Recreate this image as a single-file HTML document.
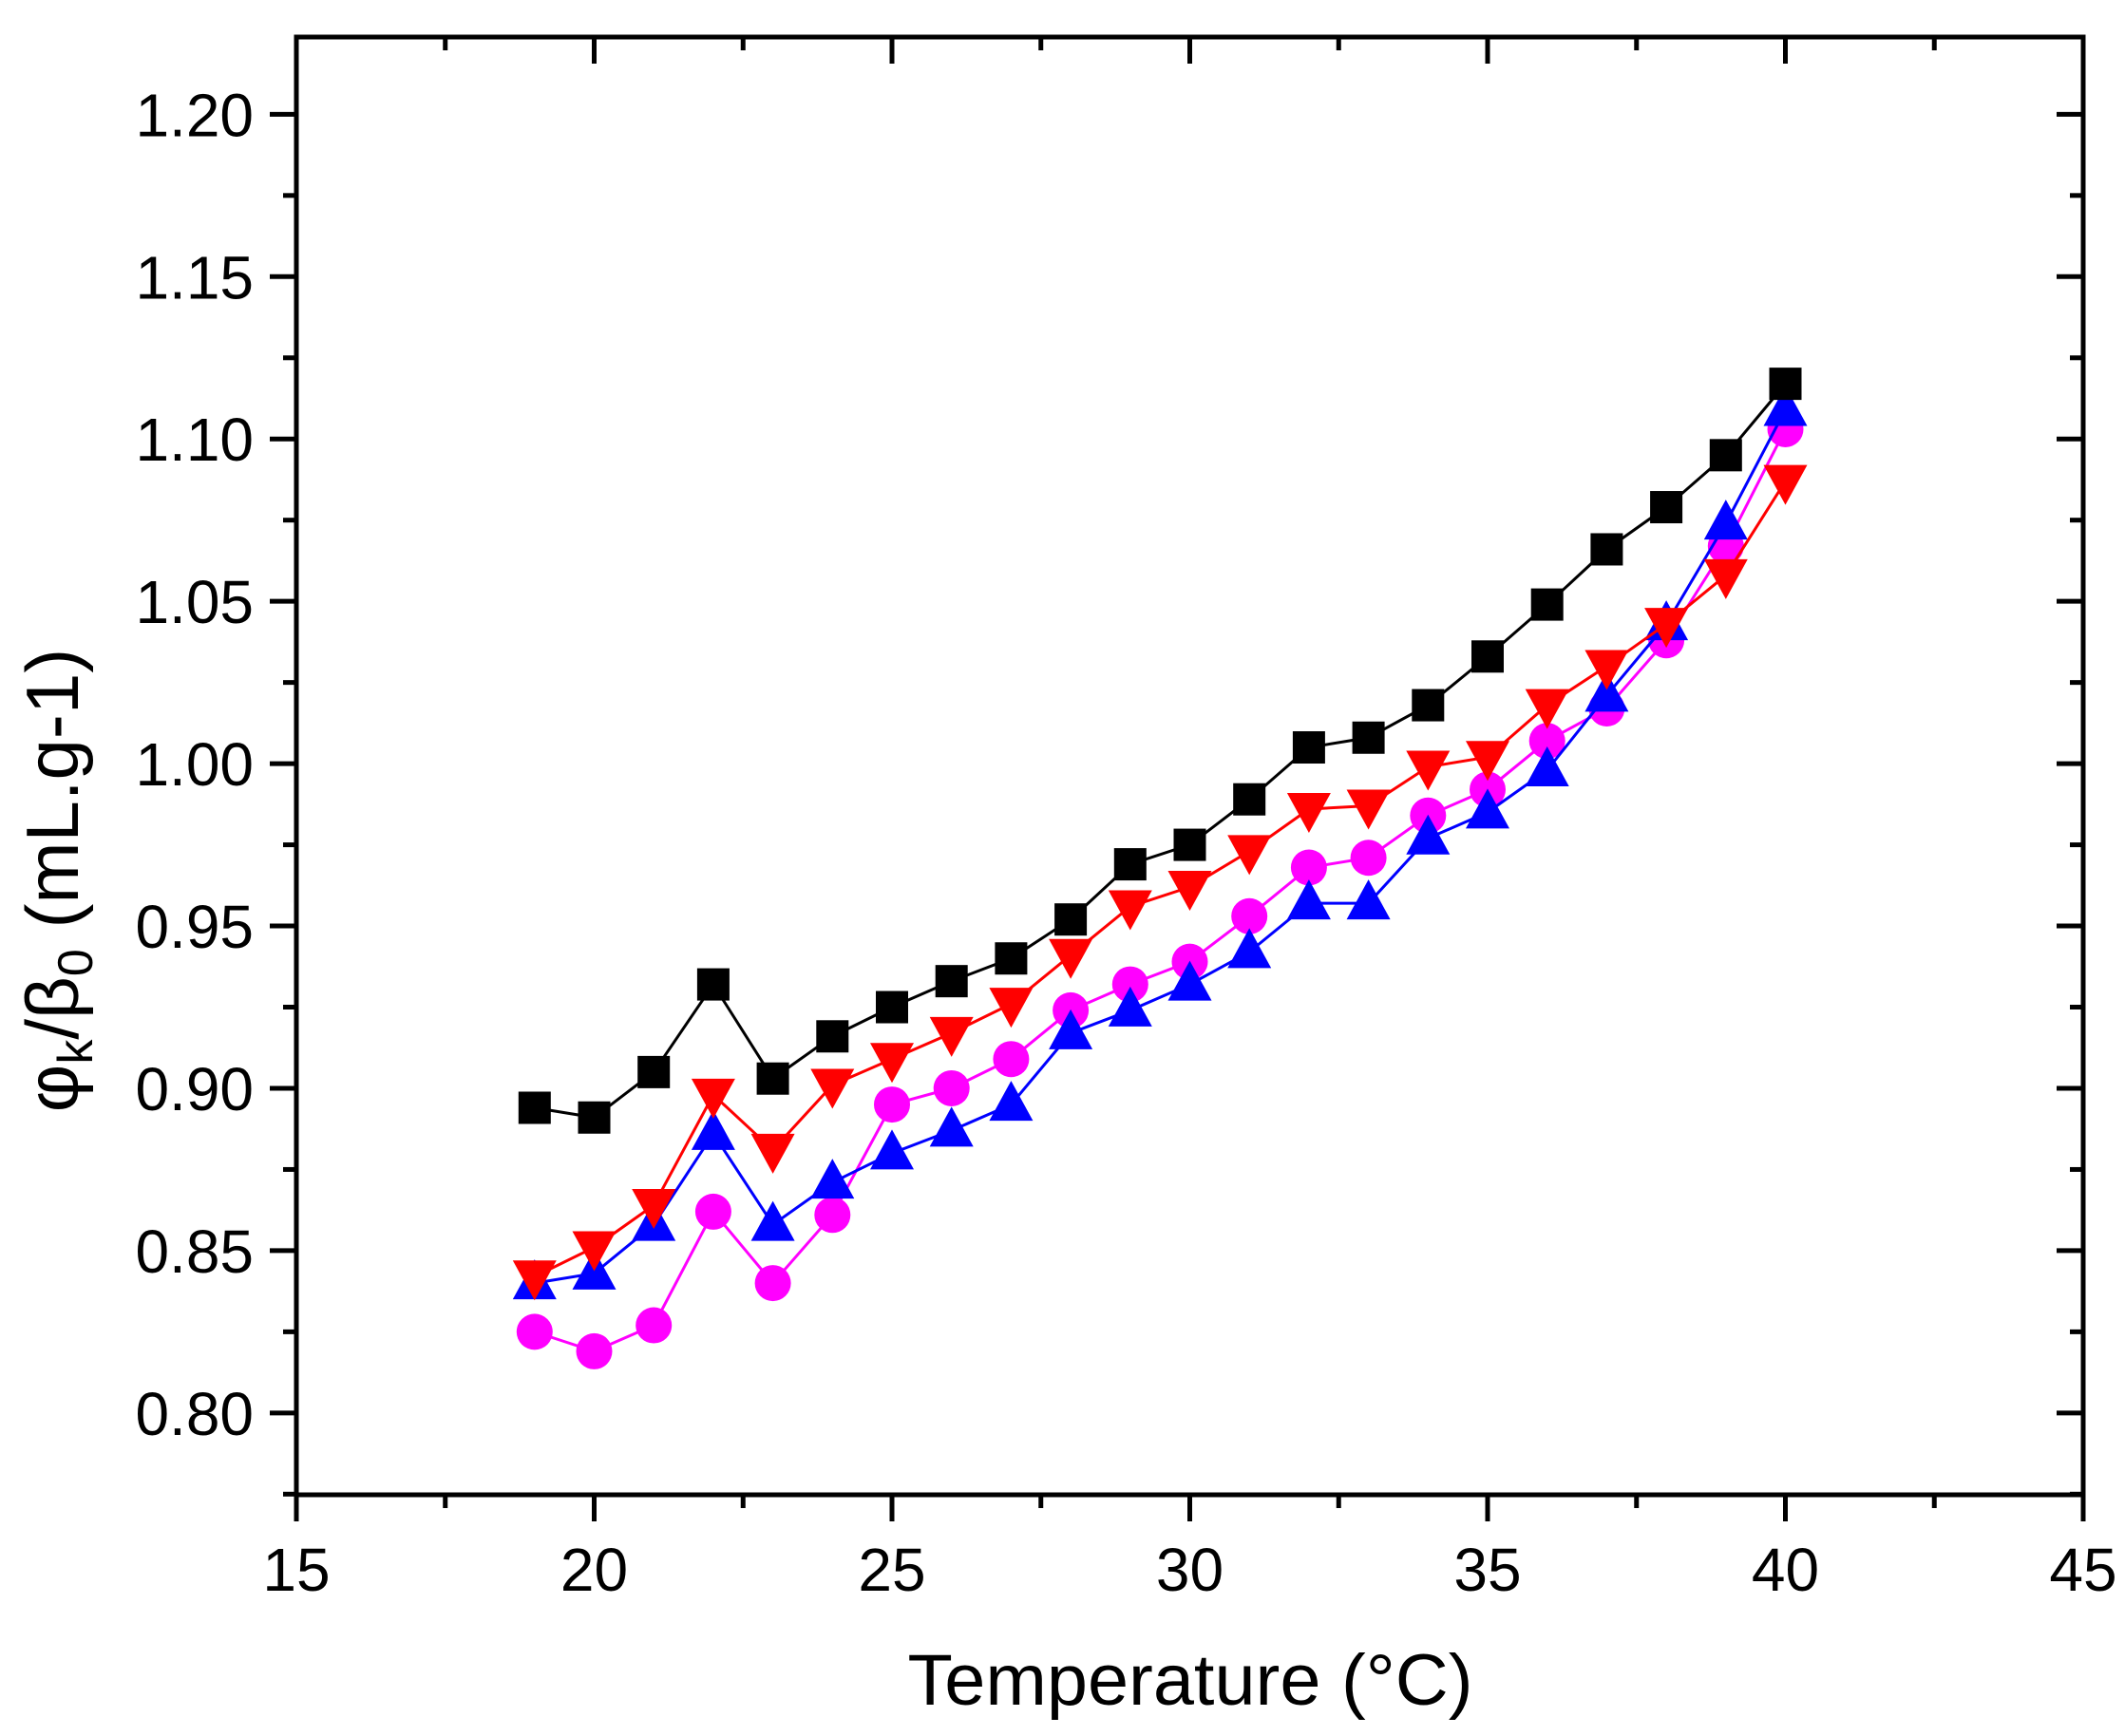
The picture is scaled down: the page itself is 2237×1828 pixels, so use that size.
<!DOCTYPE html>
<html><head><meta charset="utf-8"><style>
html,body{margin:0;padding:0;background:#fff;}
svg{display:block;font-family:"Liberation Sans",Arial,sans-serif;}
</style></head><body>
<svg id="chart" width="2237" height="1828" viewBox="0 0 2237 1828" xmlns="http://www.w3.org/2000/svg">
<rect width="2237" height="1828" fill="#fff"/>
<g id="axes"></g>
<g id="series"></g>
<text x="1253" y="1795" font-size="76" text-anchor="middle" textLength="595" lengthAdjust="spacingAndGlyphs">Temperature (°C)</text>
<text transform="translate(82,927) rotate(-90)" font-size="78" text-anchor="middle">φ<tspan font-size="52" dy="15">k</tspan><tspan dy="-15">/β</tspan><tspan font-size="52" dy="15">0</tspan><tspan dy="-15"> (mL.g-1)</tspan></text>
</svg>
<script>
const temps = [19,20,21,22,23,24,25,26,27,28,29,30,31,32,33,34,35,36,37,38,39,40];
const blackVals = [0.894,0.891,0.905,0.932,0.903,0.916,0.925,0.933,0.940,0.952,0.969,0.975,0.989,1.005,1.008,1.018,1.033,1.049,1.066,1.079,1.095,1.117];
const redVals = [0.842,0.851,0.864,0.898,0.881,0.901,0.909,0.917,0.926,0.941,0.956,0.962,0.973,0.986,0.987,0.999,1.002,1.018,1.030,1.043,1.058,1.087];
const blueVals = [0.840,0.843,0.858,0.886,0.858,0.871,0.880,0.887,0.895,0.917,0.924,0.932,0.942,0.957,0.957,0.977,0.985,0.998,1.021,1.043,1.074,1.109];
const magentaVals = [0.825,0.819,0.827,0.862,0.840,0.861,0.895,0.900,0.909,0.924,0.932,0.939,0.953,0.968,0.971,0.984,0.992,1.007,1.017,1.038,1.067,1.103];
const xTicks = [15,20,25,30,35,40,45];
const yTicks = ["0.80","0.85","0.90","0.95","1.00","1.05","1.10","1.15","1.20"];

const L=312,R=2193,T=39,B=1574;
const xMin=15,xMax=45,yMin=0.7748,yMax=1.2238;
function xs(v){return L+(v-xMin)/(xMax-xMin)*(R-L);}
function ys(v){return B-(v-yMin)/(yMax-yMin)*(B-T);}
const NS="http://www.w3.org/2000/svg";
function mk(tag,attrs,parent){const e=document.createElementNS(NS,tag);for(const k in attrs)e.setAttribute(k,attrs[k]);parent.appendChild(e);return e;}
const axes=document.getElementById('axes');
const frame=mk('rect',{x:L,y:T,width:R-L,height:B-T,fill:'none',stroke:'#000','stroke-width':5},axes);


for(let v=15;v<=45;v+=2.5){
  const major=(v%5===0);const x=xs(v);const len=major?28:14;
  const b=mk('line',{x1:x,x2:x,y1:B,y2:B+len,stroke:'#000','stroke-width':5},axes);
  
  
  const t=mk('line',{x1:x,x2:x,y1:T,y2:T+len,stroke:'#000','stroke-width':5},axes);
  
  
}
xTicks.forEach(v=>{
  const t=mk('text',{x:xs(v),y:1675,'font-size':64,'text-anchor':'middle'},axes);
  t.textContent=v;
  
  
});
for(let i=0;i<=17;i++){
  const v=0.775+i*0.025;if(v>1.224)break;
  const major=(i%2===1);const y=ys(v);const len=major?28:14;
  const l=mk('line',{x1:L-len,x2:L,y1:y,y2:y,stroke:'#000','stroke-width':5},axes);
  
  
  const r=mk('line',{x1:R-len,x2:R,y1:y,y2:y,stroke:'#000','stroke-width':5},axes);
  
  
}
yTicks.forEach(s=>{
  const t=mk('text',{x:267,y:ys(parseFloat(s))+23,'font-size':64,'text-anchor':'end'},axes);
  t.textContent=s;
  
  
});
const series=document.getElementById('series');
function drawSeries(vals,color,shape,name){
  const g=mk('g',{},series);
  
  
  const pts=temps.map((t,i)=>xs(t)+','+ys(vals[i])).join(' ');
  const pl=mk('polyline',{points:pts,fill:'none',stroke:color,'stroke-width':3},g);
  
  
  temps.forEach((t,i)=>{
    const x=xs(t),y=ys(vals[i]);let m;
    if(shape==='square')m=mk('rect',{x:x-17,y:y-17,width:34,height:34,fill:color},g);
    else if(shape==='circle')m=mk('circle',{cx:x,cy:y,r:19,fill:color},g);
    else if(shape==='up')m=mk('polygon',{points:`${x},${y-25} ${x-23},${y+17} ${x+23},${y+17}`,fill:color},g);
    else m=mk('polygon',{points:`${x},${y+25} ${x-23},${y-17} ${x+23},${y-17}`,fill:color},g);
    
    
  });
}
drawSeries(magentaVals,'#ff00ff','circle','series-magenta');
drawSeries(blueVals,'#0000ff','up','series-blue');
drawSeries(redVals,'#ff0000','down','series-red');
drawSeries(blackVals,'#000000','square','series-black');
</script>
</body></html>
